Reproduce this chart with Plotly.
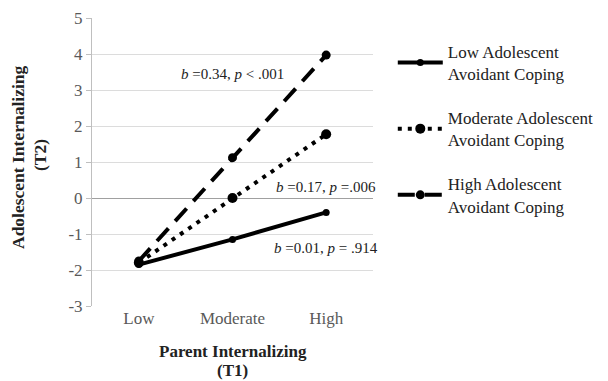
import plotly.graph_objects as go

categories = ["Low", "Moderate", "High"]
low_coping = [-1.85, -1.15, -0.40]
mod_coping = [-1.80, 0.00, 1.77]
high_coping = [-1.75, 1.12, 3.97]
series_names = ["Low Adolescent<br>Avoidant Coping",
                "Moderate Adolescent<br>Avoidant Coping",
                "High Adolescent<br>Avoidant Coping"]
y_ticks = [-3, -2, -1, 0, 1, 2, 3, 4, 5]
y_tick_labels = ["-3", "-2", "-1", "0", "1", "2", "3", "4", "5"]

FONT = "Liberation Serif"
# page body has an 8px default margin; size figure so it fits the 608x381 window
W, H = 600, 373
L, R, T, B = 84, 231, 10, 75

fig = go.Figure()
fig.add_trace(go.Scatter(x=categories, y=low_coping, name=series_names[0], mode="lines+markers",
                         line=dict(color="black", width=4, dash="solid"),
                         marker=dict(size=7, color="black"), legendgroup="a"))
fig.add_trace(go.Scatter(x=categories, y=mod_coping, name=series_names[1], mode="lines+markers",
                         line=dict(color="black", width=4, dash="4px,6px"),
                         marker=dict(size=10, color="black"), legendgroup="b"))
fig.add_trace(go.Scatter(x=categories, y=high_coping, name=series_names[2], mode="lines+markers",
                         line=dict(color="black", width=4, dash="17px,10px"),
                         marker=dict(size=9, color="black"), legendgroup="c"))

ann_font = dict(family=FONT, size=15, color="#222")
fig.add_annotation(x=1, y=3.45, xref="x", yref="y", text="<i>b</i> =0.34, <i>p</i> < .001",
                   showarrow=False, font=ann_font)
fig.add_annotation(x=2, y=0.3, xref="x", yref="y", text="<i>b</i> =0.17, <i>p</i> =.006",
                   showarrow=False, font=ann_font)
fig.add_annotation(x=2, y=-1.39, xref="x", yref="y", text="<i>b</i> =0.01, <i>p</i> = .914",
                   showarrow=False, font=ann_font)

title_font = dict(family=FONT, size=17, color="#222")
ph = H - T - B
pw = W - L - R
# x-axis title (two lines)
fig.add_annotation(x=0.5, y=0, xref="paper", yref="paper", yshift=-(343 - (H - B)),
                   text="<b>Parent Internalizing</b>", showarrow=False, font=title_font,
                   xanchor="center", yanchor="middle")
fig.add_annotation(x=0.5, y=0, xref="paper", yref="paper", yshift=-(362 - (H - B)),
                   text="<b>(T1)</b>", showarrow=False, font=title_font,
                   xanchor="center", yanchor="middle")
# y-axis title (two lines, rotated)
fig.add_annotation(x=0, y=(H - B - 149) / ph, xref="paper", yref="paper", xshift=10 - L,
                   text="<b>Adolescent Internalizing</b>", showarrow=False,
                   font=dict(family=FONT, size=17.5, color="#222"),
                   textangle=-90, xanchor="center", yanchor="middle")
fig.add_annotation(x=0, y=(H - B - 147) / ph, xref="paper", yref="paper", xshift=32 - L,
                   text="<b>(T2)</b>", showarrow=False,
                   font=dict(family=FONT, size=17.5, color="#222"),
                   textangle=-90, xanchor="center", yanchor="middle")

fig.update_layout(
    width=W, height=H,
    margin=dict(l=L, r=R, t=T, b=B),
    paper_bgcolor="white", plot_bgcolor="white",
    font=dict(family=FONT, size=14, color="#222"),
    legend=dict(x=(598 - L) / pw, y=0.945, xanchor="right", yanchor="top",
                font=dict(family=FONT, size=17, color="#222"),
                traceorder="grouped", tracegroupgap=19, itemwidth=45),
    xaxis=dict(type="category", range=[-0.5, 2.5], showgrid=False, automargin=False,
               tickfont=dict(family=FONT, size=17, color="#595959"), ticks="",
               showline=False, zeroline=False),
    yaxis=dict(range=[-3, 5], tickvals=y_ticks, ticktext=y_tick_labels, automargin=False,
               showgrid=True, gridcolor="#dcdcdc", gridwidth=1,
               zeroline=True, zerolinecolor="#a0a0a0", zerolinewidth=1,
               showline=True, linecolor="#bfbfbf", linewidth=1, ticks="outside", ticklen=5,
               tickcolor="#bfbfbf",
               tickfont=dict(family=FONT, size=17, color="#595959")),
)
fig.write_html("out.html")
